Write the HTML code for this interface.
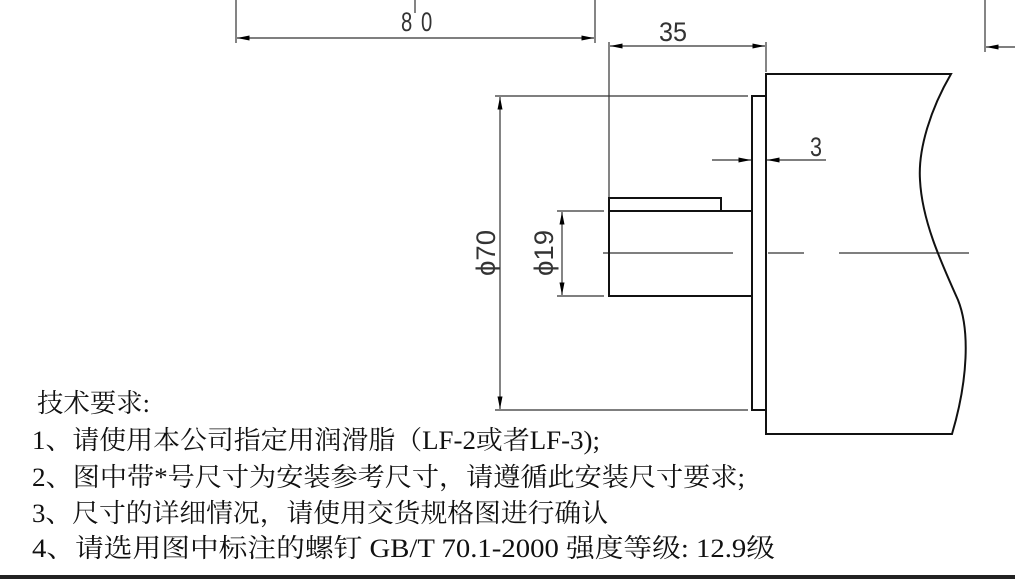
<!DOCTYPE html>
<html><head><meta charset="utf-8"><style>
html,body{margin:0;padding:0;background:#fff;}
svg{display:block;}
.t{font-family:"Liberation Serif","Noto Serif CJK SC",serif;font-size:26px;fill:#111;}
.d{font-family:"Liberation Sans","DejaVu Sans",sans-serif;font-size:27px;fill:#333;}
</style></head><body>
<svg width="1015" height="579" viewBox="0 0 1015 579" xmlns="http://www.w3.org/2000/svg">
<defs>
<marker id="a" viewBox="0 0 10 4" refX="10" refY="2" markerWidth="16" markerHeight="5" markerUnits="userSpaceOnUse" orient="auto-start-reverse"><path d="M0,0L10,2L0,4z" fill="#000"/></marker>
</defs>
<g stroke="#333" stroke-width="1.2" fill="none">
<line x1="236" y1="0" x2="236" y2="43"/>
<line x1="595" y1="0" x2="595" y2="43"/>
<line x1="415" y1="0" x2="415" y2="13"/>
<line x1="237" y1="38" x2="594" y2="38" marker-start="url(#a)" marker-end="url(#a)"/>
<line x1="609" y1="42" x2="609" y2="297"/>
<line x1="766" y1="42" x2="766" y2="72"/>
<line x1="610" y1="46" x2="765" y2="46" marker-start="url(#a)" marker-end="url(#a)"/>
<line x1="985" y1="0" x2="985" y2="52"/>
<line x1="1015" y1="47" x2="986" y2="47" marker-end="url(#a)"/>
<line x1="495" y1="96" x2="748" y2="96"/>
<line x1="495" y1="410" x2="748" y2="410"/>
<line x1="500" y1="97" x2="500" y2="409" marker-start="url(#a)" marker-end="url(#a)"/>
<line x1="557" y1="211" x2="604" y2="211"/>
<line x1="557" y1="296" x2="604" y2="296"/>
<line x1="562" y1="212" x2="562" y2="295" marker-start="url(#a)" marker-end="url(#a)"/>
<line x1="712" y1="160" x2="751" y2="160" marker-end="url(#a)"/>
<line x1="826" y1="160" x2="767" y2="160" marker-end="url(#a)"/>
<line x1="603" y1="253" x2="733" y2="253"/>
<line x1="768" y1="253" x2="804" y2="253"/>
<line x1="839" y1="253" x2="969" y2="253"/>
</g>
<g stroke="#111" stroke-width="2" fill="none">
<rect x="609" y="198" width="112" height="13"/>
<rect x="609" y="211" width="143" height="85"/>
<rect x="752" y="96" width="14" height="314"/>
<path d="M766,410 L766,434 L952,434 C968,380 970,330 958,300 C940,260 922,220 920,180 C918,150 930,110 951,74 L766,74 L766,96"/>
</g>
<g class="d">
<text x="401" y="31" transform="translate(401,0) scale(0.75,1) translate(-401,0)">8</text>
<text x="421" y="31" transform="translate(421,0) scale(0.75,1) translate(-421,0)">0</text>
<text x="673" y="41" text-anchor="middle" textLength="28" lengthAdjust="spacingAndGlyphs">35</text>
<text x="816" y="156" text-anchor="middle" textLength="12" lengthAdjust="spacingAndGlyphs">3</text>
<text transform="translate(495,253) rotate(-90)" text-anchor="middle" textLength="46" lengthAdjust="spacingAndGlyphs">ϕ70</text>
<text transform="translate(553,253) rotate(-90)" text-anchor="middle" textLength="46" lengthAdjust="spacingAndGlyphs">ϕ19</text>
</g>
<text class="t" x="37" y="412" textLength="113" lengthAdjust="spacingAndGlyphs">技术要求:</text>
<text class="t" x="32" y="449" textLength="568" lengthAdjust="spacingAndGlyphs">1、请使用本公司指定用润滑脂（LF-2或者LF-3);</text>
<text class="t" x="32" y="486" textLength="713" lengthAdjust="spacingAndGlyphs">2、图中带*号尺寸为安装参考尺寸，请遵循此安装尺寸要求;</text>
<text class="t" x="32" y="522" textLength="576" lengthAdjust="spacingAndGlyphs">3、尺寸的详细情况，请使用交货规格图进行确认</text>
<text class="t" x="32" y="557" textLength="743" lengthAdjust="spacingAndGlyphs">4、请选用图中标注的螺钉 GB/T 70.1-2000 强度等级: 12.9级</text>
<rect x="0" y="575" width="1015" height="4" fill="#222"/>
</svg>
</body></html>
